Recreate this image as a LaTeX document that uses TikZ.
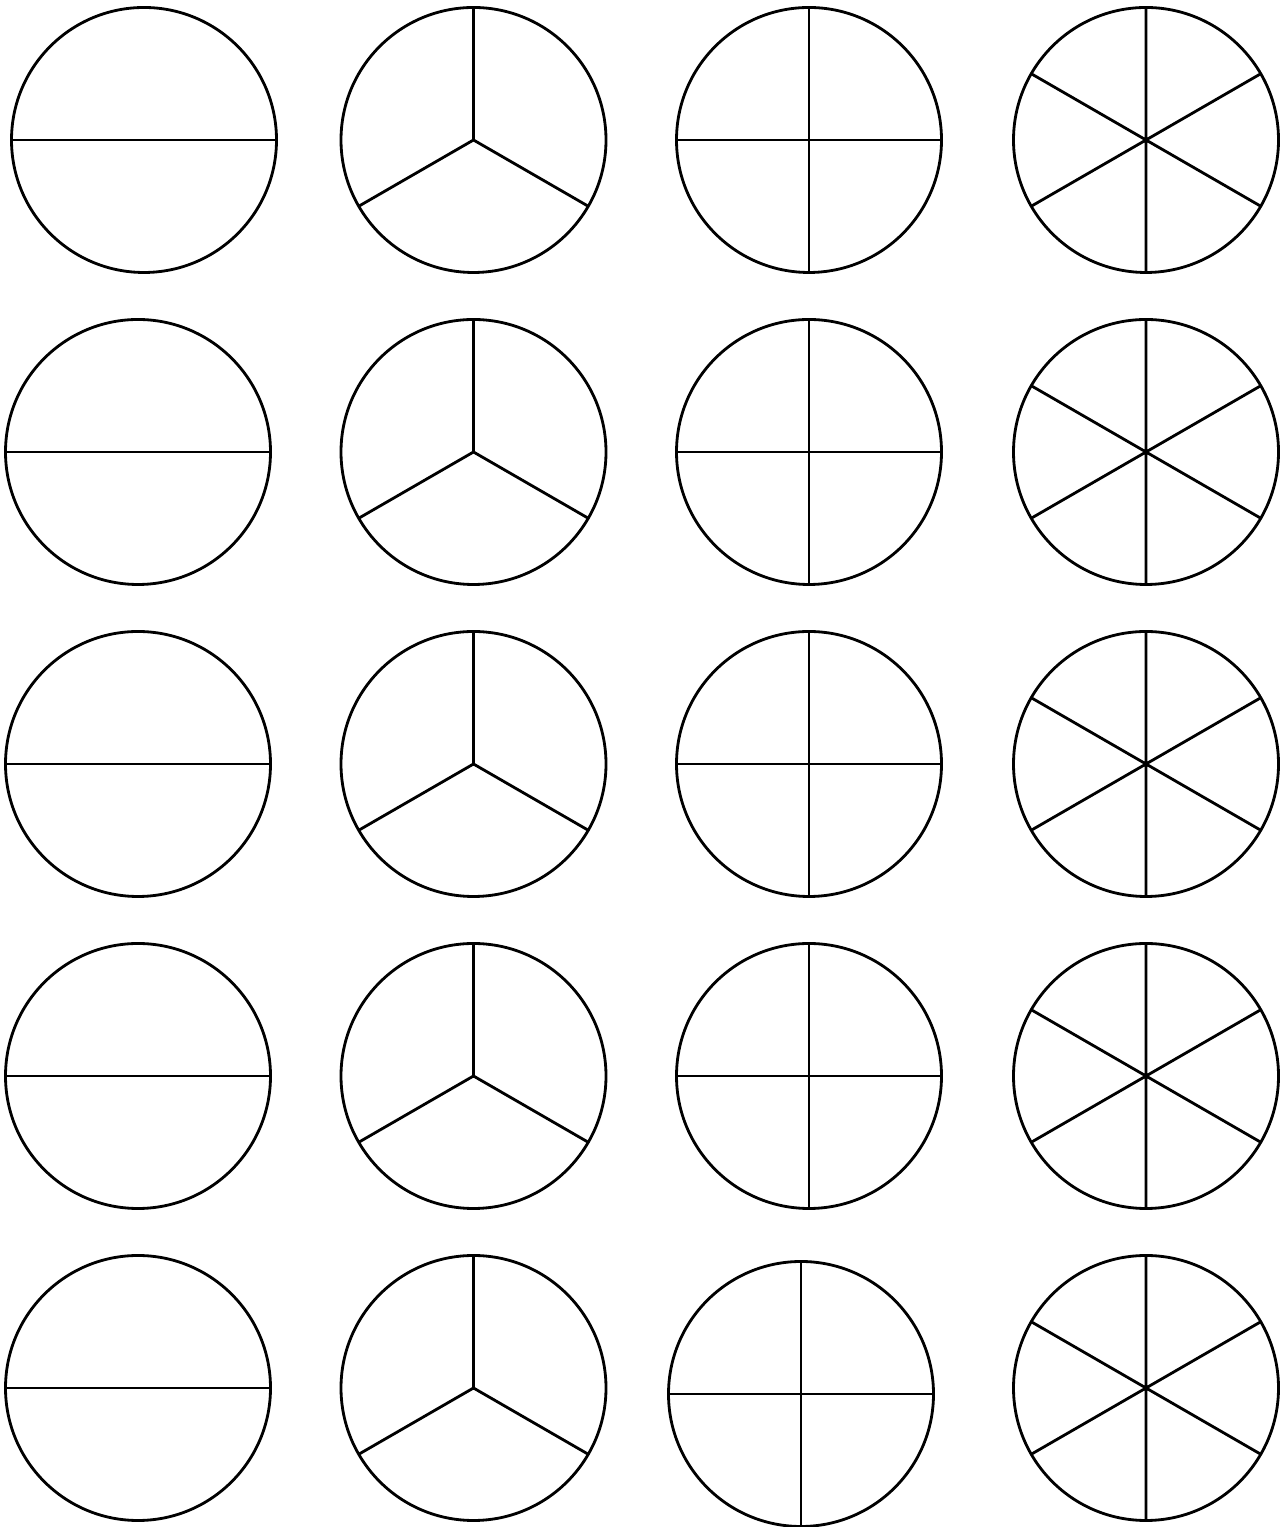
\documentclass[tikz,border=0pt]{standalone}
\usepackage{tikz}
\usetikzlibrary{positioning}

\begin{document}
\begin{tikzpicture}[
    disc/.style={circle, draw=black, line width=0.8pt, minimum size=2.65cm,
                 inner sep=0pt, outer sep=0pt},
    cut/.style={line width=0.8pt, draw=black}
]
    \useasboundingbox (0,0) rectangle (12.86,15.27);
    % halves
    \node[disc] (half1) at (1.44,13.87) {};
    \node[disc] (half2) at (1.38,10.75) {};
    \node[disc] (half3) at (1.38,7.63) {};
    \node[disc] (half4) at (1.38,4.51) {};
    \node[disc] (half5) at (1.38,1.39) {};
    % thirds
    \node[disc] (third1) at (4.735,13.87) {};
    \node[disc] (third2) at (4.735,10.75) {};
    \node[disc] (third3) at (4.735,7.63) {};
    \node[disc] (third4) at (4.735,4.51) {};
    \node[disc] (third5) at (4.735,1.39) {};
    % quarters
    \node[disc] (quarter1) at (8.09,13.87) {};
    \node[disc] (quarter2) at (8.09,10.75) {};
    \node[disc] (quarter3) at (8.09,7.63) {};
    \node[disc] (quarter4) at (8.09,4.51) {};
    \node[disc] (quarter5) at (8.01,1.33) {};
    % sixths
    \node[disc] (sixth1) at (11.46,13.87) {};
    \node[disc] (sixth2) at (11.46,10.75) {};
    \node[disc] (sixth3) at (11.46,7.63) {};
    \node[disc] (sixth4) at (11.46,4.51) {};
    \node[disc] (sixth5) at (11.46,1.39) {};

    \foreach \n in {half1,half2,half3,half4,half5}
        \draw[cut] (\n.west) -- (\n.east);
    \foreach \n in {third1,third2,third3,third4,third5}
        \draw[cut] (\n.north) -- (\n.center) -- (\n.210) (\n.center) -- (\n.330);
    \foreach \n in {quarter1,quarter2,quarter3,quarter4,quarter5}
        \draw[cut] (\n.north) -- (\n.south) (\n.west) -- (\n.east);
    \foreach \n in {sixth1,sixth2,sixth3,sixth4,sixth5}
        \draw[cut] (\n.north) -- (\n.south) (\n.30) -- (\n.210) (\n.150) -- (\n.330);
\end{tikzpicture}
\end{document}
